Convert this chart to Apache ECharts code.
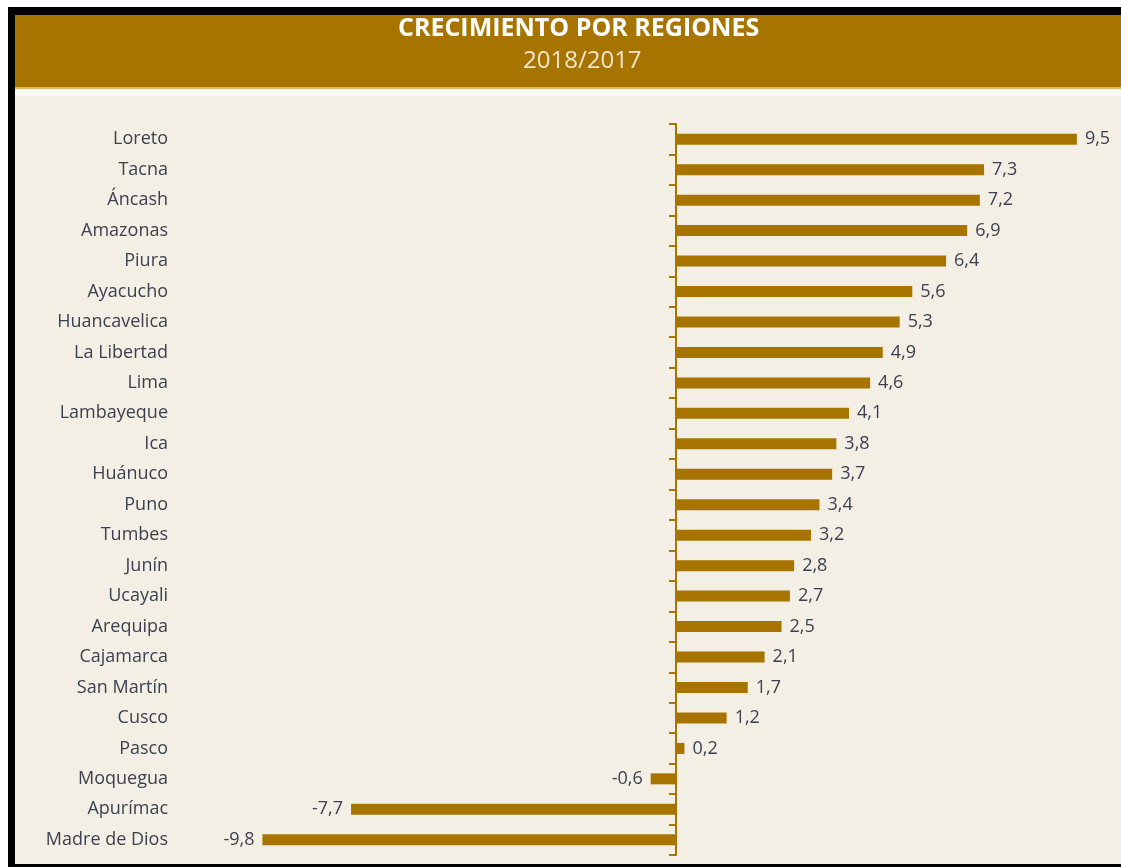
<!DOCTYPE html>
<html>
<head>
<meta charset="utf-8">
<script src="https://cdn.jsdelivr.net/npm/echarts@6/dist/echarts.min.js"></script>
<style>
  html, body { margin: 0; padding: 0; background: #ffffff; }
  #main { width: 1121px; height: 867px; }
</style>
</head>
<body>
<div id="main"></div>
<script type="text/javascript">
  // regiones y crecimiento 2018/2017 (%)
  var regiones = ['Loreto', 'Tacna', 'Áncash', 'Amazonas', 'Piura', 'Ayacucho', 'Huancavelica',
    'La Libertad', 'Lima', 'Lambayeque', 'Ica', 'Huánuco', 'Puno', 'Tumbes', 'Junín', 'Ucayali',
    'Arequipa', 'Cajamarca', 'San Martín', 'Cusco', 'Pasco', 'Moquegua', 'Apurímac', 'Madre de Dios'];
  var crecimiento = [9.5, 7.3, 7.2, 6.9, 6.4, 5.6, 5.3, 4.9, 4.6, 4.1, 3.8, 3.7, 3.4, 3.2, 2.8, 2.7,
    2.5, 2.1, 1.7, 1.2, 0.2, -0.6, -7.7, -9.8];
  var titulo = 'CRECIMIENTO POR REGIONES';
  var subtitulo = '2018/2017';

  var marron = '#a87400';
  var textoColor = '#3b4150';

  var myChart = echarts.init(document.getElementById('main'));

  var barData = crecimiento.map(function (v) {
    return {
      value: v,
      label: { position: v < 0 ? 'left' : 'right' }
    };
  });

  var option = {
    backgroundColor: '#ffffff',
    animation: false,
    graphic: [
      // marco negro y cabecera
      { type: 'rect', z: -10, shape: { x: 8, y: 7, width: 1113, height: 860 }, style: { fill: '#000000' } },
      { type: 'rect', z: -9, shape: { x: 15, y: 15, width: 1106, height: 849 }, style: { fill: '#f4efe4' } },
      { type: 'rect', z: -8, shape: { x: 15, y: 88, width: 1106, height: 8 }, style: { fill: '#fbf8f1' } },
      { type: 'rect', z: -8, shape: { x: 15, y: 15, width: 1106, height: 73 }, style: { fill: marron } },
      { type: 'rect', z: -8, shape: { x: 15, y: 87, width: 1106, height: 2 }, style: { fill: '#d8b66a' } },
      {
        type: 'text', left: 588 - 190, top: 16, z: 5,
        style: { text: titulo, fill: '#ffffff', font: 'bold 25px "Open Sans", sans-serif', width: 380, textAlign: 'center' }
      },
      {
        type: 'text', left: 588 - 65, top: 49, z: 5,
        style: { text: subtitulo, fill: '#f3e6cc', font: '24px "Open Sans", sans-serif', width: 130, textAlign: 'center' }
      }
    ],
    grid: {
      left: 254,
      right: 23,
      top: 124,
      bottom: 12
    },
    xAxis: {
      type: 'value',
      min: -10,
      max: 10,
      show: false
    },
    yAxis: [
      {
        type: 'category',
        data: regiones,
        inverse: true,
        axisLine: { onZero: true, lineStyle: { color: marron, width: 2 } },
        axisTick: { show: true, length: 7, lineStyle: { color: marron, width: 2 } },
        axisLabel: { show: false },
        splitLine: { show: false }
      },
      {
        type: 'category',
        data: regiones,
        inverse: true,
        position: 'left',
        axisLine: { show: false, onZero: false },
        axisTick: { show: false },
        axisLabel: {
          margin: 86,
          color: textoColor,
          fontSize: 18,
          fontFamily: 'Open Sans'
        }
      }
    ],
    series: [
      {
        type: 'bar',
        yAxisIndex: 0,
        data: barData,
        barWidth: 11,
        itemStyle: { color: marron },
        label: {
          show: true,
          distance: 8,
          color: textoColor,
          fontSize: 18,
          fontFamily: 'Open Sans',
          formatter: function (p) {
            return String(p.value).replace('.', ',');
          }
        }
      }
    ]
  };

  myChart.setOption(option);
</script>
</body>
</html>
